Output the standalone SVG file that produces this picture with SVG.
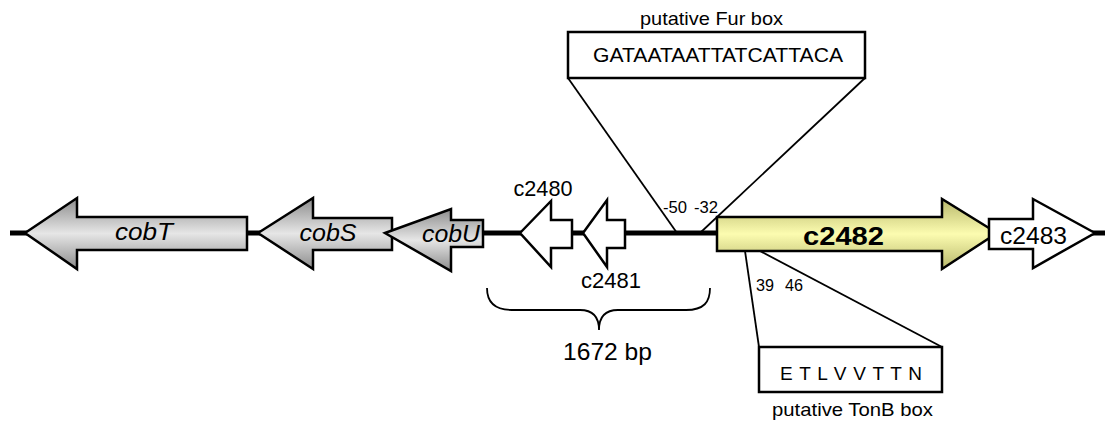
<svg xmlns="http://www.w3.org/2000/svg" width="1113" height="429" viewBox="0 0 1113 429">
<defs>
<linearGradient id="gGray" x1="0" y1="0" x2="0" y2="1">
<stop offset="0" stop-color="#8c8c8c"/>
<stop offset="0.5" stop-color="#e6e6e6"/>
<stop offset="1" stop-color="#8c8c8c"/>
</linearGradient>
<linearGradient id="gYellow" x1="0" y1="0" x2="0" y2="1">
<stop offset="0" stop-color="#b8b86c"/>
<stop offset="0.5" stop-color="#fcfcb0"/>
<stop offset="1" stop-color="#b8b86c"/>
</linearGradient>
<style>
.gene{stroke:#000;stroke-width:2.5;stroke-linejoin:miter}
.gray{fill:url(#gGray)}
.yel{fill:url(#gYellow)}
.wht{fill:#fff}
.t{font-family:"Liberation Sans",Arial,sans-serif;fill:#000;text-anchor:middle}
.it{font-style:italic}
.ln{stroke:#000;stroke-width:1.8;fill:none}
.box{fill:#fff;stroke:#000;stroke-width:2.5}
</style>
</defs>
<g id="connectors">
<line x1="10" y1="233" x2="1105" y2="233" stroke="#000" stroke-width="5"/>
<line class="ln" x1="568" y1="78" x2="677" y2="233"/>
<line class="ln" x1="865" y1="78" x2="700" y2="233"/>
<line class="ln" x1="745" y1="251" x2="759" y2="347"/>
<line class="ln" x1="760" y1="251" x2="942" y2="347"/>
<path class="ln" d="M487,288 C487,302 494,310 512,310 L580,310 C594,310 599,318 599,330 C599,318 604,310 618,310 L686,310 C704,310 710,302 710,288" stroke-width="2"/>
</g>
<g id="cobT">
<polygon class="gene gray" points="25,233 77,198 77,217 247,217 247,250 77,250 77,269"/>
<text class="t it" x="144" y="240" font-size="24" textLength="58" lengthAdjust="spacingAndGlyphs">cobT</text>
</g>
<g id="cobS">
<polygon class="gene gray" points="258,233 313,198 313,218 392,218 392,250 313,250 313,269"/>
<text class="t it" x="328" y="241" font-size="24" textLength="57" lengthAdjust="spacingAndGlyphs">cobS</text>
</g>
<g id="cobU">
<polygon class="gene gray" points="385,233 451,209 451,220 483,220 483,247 451,247 451,271"/>
<text class="t it" x="451" y="242" font-size="24" textLength="58" lengthAdjust="spacingAndGlyphs">cobU</text>
</g>
<g id="c2480">
<polygon class="gene wht" points="520,233 551,201 551,220 572,220 572,248 551,248 551,267"/>
<text class="t" x="543" y="196" font-size="22" textLength="59" lengthAdjust="spacingAndGlyphs">c2480</text>
</g>
<g id="c2481">
<polygon class="gene wht" points="583,233 607,200 607,220 625,220 625,248 607,248 607,267"/>
<text class="t" x="611" y="288" font-size="22" textLength="60" lengthAdjust="spacingAndGlyphs">c2481</text>
</g>
<g id="c2482">
<polygon class="gene yel" points="997,233 942,199 942,217 717,217 717,251 942,251 942,269"/>
<text class="t" x="843.5" y="245" font-size="26" font-weight="bold" textLength="81" lengthAdjust="spacingAndGlyphs">c2482</text>
</g>
<g id="c2483">
<polygon class="gene wht" points="1095,233 1033,199 1033,219 989,219 989,249 1033,249 1033,268"/>
<text class="t" x="1033.5" y="244" font-size="24" textLength="67" lengthAdjust="spacingAndGlyphs">c2483</text>
</g>
<g id="furbox">
<text class="t" x="711.5" y="25" font-size="19" textLength="143" lengthAdjust="spacingAndGlyphs">putative Fur box</text>
<rect class="box" x="568" y="32" width="297" height="46"/>
<text class="t" x="718" y="62" font-size="20" textLength="250" lengthAdjust="spacingAndGlyphs">GATAATAATTATCATTACA</text>
<text class="t" x="675" y="213" font-size="16" textLength="24" lengthAdjust="spacingAndGlyphs">-50</text>
<text class="t" x="706" y="213" font-size="16" textLength="24" lengthAdjust="spacingAndGlyphs">-32</text>
</g>
<g id="tonbbox">
<text class="t" x="765" y="291" font-size="16" textLength="18" lengthAdjust="spacingAndGlyphs">39</text>
<text class="t" x="794" y="291" font-size="16" textLength="18" lengthAdjust="spacingAndGlyphs">46</text>
<rect class="box" x="759" y="347" width="183" height="45"/>
<text class="t" x="851" y="380" font-size="19" textLength="142" lengthAdjust="spacing">E T L V V T T N</text>
<text class="t" x="852.5" y="416" font-size="19" textLength="161" lengthAdjust="spacingAndGlyphs">putative TonB box</text>
</g>
<g id="brace">
<text class="t" x="607.5" y="360" font-size="24" textLength="89" lengthAdjust="spacingAndGlyphs">1672 bp</text>
</g>
</svg>
